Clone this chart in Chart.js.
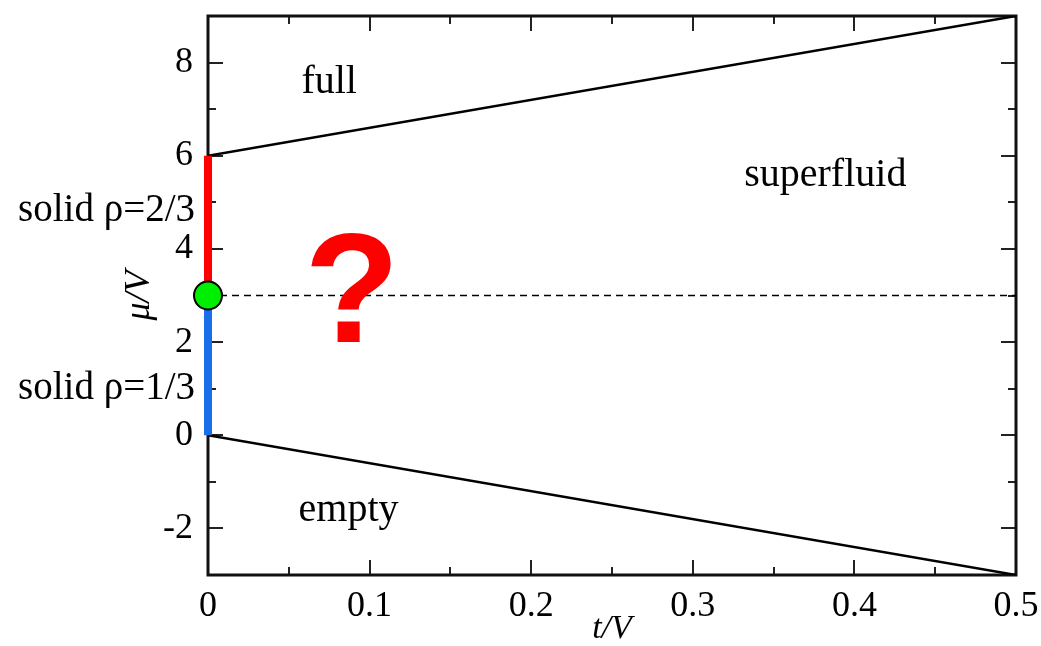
<!DOCTYPE html>
<html>
<head>
<meta charset="utf-8">
<script src="https://cdn.jsdelivr.net/npm/chart.js@4"></script>
<style>
  html, body { margin: 0; padding: 0; background: #fff; }
  canvas { display: block; }
</style>
</head>
<body>
<canvas id="phaseChart" width="1041" height="646"></canvas>
<script>
// phase boundaries: t/V along x, mu/V along y
const tEnds = [0, 0.5];
const upperMu = [6, 9];
const lowerMu = [0, -3];
const halfFillingMu = [3, 3];
const solidTwoThirdsMu = [3, 6];
const solidOneThirdMu = [0, 3];
const criticalPoint = [0, 3];

const xTicks = [0, 0.1, 0.2, 0.3, 0.4, 0.5];
const xMinorTicks = [0.05, 0.15, 0.25, 0.35, 0.45];
const yTicks = [-2, 0, 2, 4, 6, 8];
const yMinorTicks = [-1, 1, 3, 5, 7];

// region names and where they sit (t/V, mu/V)
const regionNames = ["full", "superfluid", "empty"];
const regionT = [0.075, 0.382, 0.087];
const regionMu = [7.35, 5.36, -1.85];
const questionT = 0.089;
const questionMu = 2.0;
const solidNames = ["solid ρ=2/3", "solid ρ=1/3"];
const solidMu = [4.6, 0.77];

const serif = "'Liberation Serif', 'Times New Roman', serif";

function pairs(xs, ys) {
  return xs.map((x, i) => ({ x: x, y: ys[i] }));
}

// box around the plot with ticks pointing inwards on every side
const framePlugin = {
  id: "frame",
  beforeDatasetsDraw(chart) {
    const { ctx, chartArea: a, scales: { x, y } } = chart;
    ctx.save();
    ctx.strokeStyle = "#222";
    ctx.lineWidth = 2;
    ctx.beginPath();
    const tickX = (v, len) => {
      const px = Math.round(x.getPixelForValue(v));
      ctx.moveTo(px, a.bottom); ctx.lineTo(px, a.bottom - len);
      ctx.moveTo(px, a.top); ctx.lineTo(px, a.top + len);
    };
    const tickY = (v, len) => {
      const py = Math.round(y.getPixelForValue(v));
      ctx.moveTo(a.left, py); ctx.lineTo(a.left + len, py);
      ctx.moveTo(a.right, py); ctx.lineTo(a.right - len, py);
    };
    xTicks.forEach(v => tickX(v, 15));
    xMinorTicks.forEach(v => tickX(v, 8));
    yTicks.forEach(v => tickY(v, 15));
    yMinorTicks.forEach(v => tickY(v, 8));
    ctx.stroke();
    ctx.strokeStyle = "#111";
    ctx.lineWidth = 3;
    ctx.strokeRect(a.left, a.top, a.right - a.left, a.bottom - a.top);
    ctx.restore();
  },
  afterDatasetsDraw(chart) {
    const { ctx, chartArea: a, scales: { x, y } } = chart;
    ctx.save();
    ctx.fillStyle = "#000";
    ctx.textBaseline = "alphabetic";
    ctx.font = "40px " + serif;
    ctx.textAlign = "center";
    regionNames.forEach((name, i) => {
      ctx.fillText(name, x.getPixelForValue(regionT[i]), y.getPixelForValue(regionMu[i]));
    });
    ctx.font = "39px " + serif;
    ctx.textAlign = "right";
    solidNames.forEach((name, i) => {
      ctx.fillText(name, a.left - 13, y.getPixelForValue(solidMu[i]));
    });
    ctx.fillStyle = "#ff0000";
    ctx.textAlign = "center";
    ctx.font = "bold 156px 'Liberation Sans', Arial, sans-serif";
    ctx.fillText("?", x.getPixelForValue(questionT), y.getPixelForValue(questionMu));
    ctx.restore();
  }
};

const boundary = {
  borderColor: "#000",
  borderWidth: 2.5,
  pointRadius: 0,
  showLine: true,
  fill: false
};

// the first dataset ends up on top, so the green point comes first
new Chart(document.getElementById("phaseChart"), {
  type: "scatter",
  data: {
    datasets: [
      {
        data: [{ x: criticalPoint[0], y: criticalPoint[1] }],
        pointRadius: 14,
        pointBackgroundColor: "#00ee00",
        pointBorderColor: "#000",
        pointBorderWidth: 2,
        showLine: false,
        clip: false
      },
      {
        data: pairs([0, 0], solidTwoThirdsMu),
        borderColor: "#ff0000",
        borderWidth: 8,
        pointRadius: 0,
        showLine: true,
        clip: false
      },
      {
        data: pairs([0, 0], solidOneThirdMu),
        borderColor: "#1a6fe8",
        borderWidth: 8,
        pointRadius: 0,
        showLine: true,
        clip: false
      },
      Object.assign({ data: pairs(tEnds, upperMu) }, boundary),
      Object.assign({ data: pairs(tEnds, lowerMu) }, boundary),
      Object.assign({ data: pairs(tEnds, halfFillingMu) }, boundary, { borderWidth: 1.5, borderDash: [7, 5] })
    ]
  },
  options: {
    responsive: false,
    animation: false,
    devicePixelRatio: 1,
    layout: { padding: { left: 0, right: 25, top: 11, bottom: 0 } },
    plugins: { legend: { display: false }, tooltip: { enabled: false } },
    scales: {
      x: {
        type: "linear",
        min: 0,
        max: 0.5,
        grid: { display: false },
        border: { display: false },
        afterBuildTicks: s => { s.ticks = xTicks.map(v => ({ value: v })); },
        afterFit: s => { s.height = 71; s.paddingLeft = 0; s.paddingRight = 0; },
        ticks: {
          color: "#000",
          padding: 2,
          font: { family: serif, size: 36 },
          callback: v => String(Math.round(v * 10) / 10)
        },
        title: {
          display: true,
          text: "t/V",
          color: "#000",
          padding: { top: 0, bottom: -3 },
          font: { family: serif, size: 34, style: "italic" }
        }
      },
      y: {
        type: "linear",
        min: -3,
        max: 9,
        grid: { display: false },
        border: { display: false },
        afterBuildTicks: s => { s.ticks = yTicks.map(v => ({ value: v })); },
        afterFit: s => { s.width = 208; s.paddingTop = 0; s.paddingBottom = 0; },
        ticks: {
          color: "#000",
          padding: 7,
          font: { family: serif, size: 36 }
        },
        title: {
          display: true,
          text: "μ/V",
          color: "#000",
          padding: { top: 118, bottom: 0 },
          font: { family: serif, size: 36, style: "italic" }
        }
      }
    }
  },
  plugins: [framePlugin]
});
</script>
</body>
</html>
